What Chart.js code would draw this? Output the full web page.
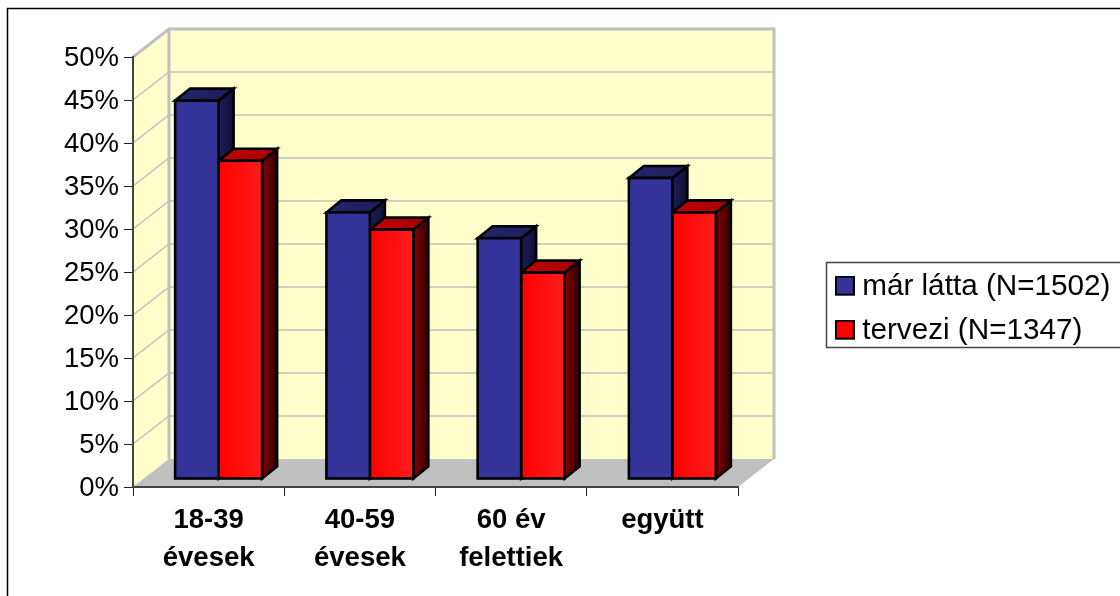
<!DOCTYPE html>
<html>
<head>
<meta charset="utf-8">
<style>
  html, body { margin: 0; padding: 0; background: #fff; overflow: hidden; }
  canvas { display: block; }
</style>
<script src="https://cdn.jsdelivr.net/npm/chart.js@4"></script>
</head>
<body>
<canvas id="bar-chart" width="1120" height="596"></canvas>
<script>
// Values
const categories = [['18-39', 'évesek'], ['40-59', 'évesek'], ['60 év', 'felettiek'], ['együtt']];
const seenValues = [44, 31, 28, 35];
const plannedValues = [37, 29, 24, 31];
const seenLabel = 'már látta (N=1502)';
const plannedLabel = 'tervezi (N=1347)';

const FONT = '"Liberation Sans", Arial, sans-serif';
const WALL = { dx: 36, dy: -28 };   // back wall offset from the axes
const BAR_SHIFT = { dx: 10, dy: -8 }; // bars stand a bit inside the floor
const BAR_DEPTH = { dx: 15, dy: -12 };
const EDGE = 2.6;

const faces = [
  { top: ['#24246e', '#1c1c5c'], side: ['#1e1e60', '#0d0d30'] },
  { top: ['#c40000', '#a00000'], side: ['#8a0000', '#2e0000'] }
];

function swatch(color) {
  // taller than the box so it sits a little above the text's middle
  const c = document.createElement('canvas');
  c.width = 20;
  c.height = 23;
  const g = c.getContext('2d');
  g.fillStyle = '#000';
  g.fillRect(0, 0, 20, 20);
  g.fillStyle = color;
  g.fillRect(2, 2, 16, 16);
  return c;
}

function fillPoly(ctx, pts, fill, stroke, width) {
  ctx.beginPath();
  pts.forEach((p, i) => i ? ctx.lineTo(p[0], p[1]) : ctx.moveTo(p[0], p[1]));
  ctx.closePath();
  if (fill) { ctx.fillStyle = fill; ctx.fill(); }
  if (stroke) { ctx.strokeStyle = stroke; ctx.lineWidth = width; ctx.stroke(); }
}

function hGradient(ctx, x0, x1, colors) {
  const g = ctx.createLinearGradient(x0, 0, x1, 0);
  g.addColorStop(0, colors[0]);
  g.addColorStop(1, colors[1]);
  return g;
}

// walls, floor and the frame behind everything
const backdrop = {
  id: 'backdrop',
  beforeDraw(chart) {
    const { ctx, chartArea: a, scales } = chart;
    const grey = '#c0c0c0';
    ctx.save();
    fillPoly(ctx, [[a.left, a.top], [a.left + WALL.dx, a.top + WALL.dy], [a.left + WALL.dx, a.bottom + WALL.dy], [a.left, a.bottom]], '#ffffcc');
    ctx.fillStyle = '#ffffcc';
    ctx.fillRect(a.left + WALL.dx, a.top + WALL.dy, a.right - a.left, a.bottom - a.top);
    fillPoly(ctx, [[a.left, a.bottom], [a.left + WALL.dx, a.bottom + WALL.dy], [a.right + WALL.dx, a.bottom + WALL.dy], [a.right, a.bottom]], grey);

    ctx.strokeStyle = grey;
    ctx.lineWidth = 1.5;
    scales.y.ticks.forEach(t => {
      if (t.value === 0 || t.value === 50) return;
      const y = scales.y.getPixelForValue(t.value);
      ctx.beginPath();
      ctx.moveTo(a.left, y);
      ctx.lineTo(a.left + WALL.dx, y + WALL.dy);
      ctx.lineTo(a.right + WALL.dx, y + WALL.dy);
      ctx.stroke();
    });

    // heavier edge round the back wall
    ctx.lineWidth = 3;
    ctx.beginPath();
    ctx.moveTo(a.left, a.top);
    ctx.lineTo(a.left + WALL.dx, a.top + WALL.dy);
    ctx.lineTo(a.right + WALL.dx, a.top + WALL.dy);
    ctx.lineTo(a.right + WALL.dx, a.bottom + WALL.dy);
    ctx.moveTo(a.left + WALL.dx, a.top + WALL.dy);
    ctx.lineTo(a.left + WALL.dx, a.bottom + WALL.dy);
    ctx.stroke();

    // outer frame, only left and top are in the picture
    ctx.strokeStyle = '#000';
    ctx.lineWidth = 1.5;
    ctx.beginPath();
    ctx.moveTo(7.5, chart.height);
    ctx.lineTo(7.5, 8.5);
    ctx.lineTo(chart.width, 8.5);
    ctx.stroke();
    ctx.restore();
  }
};

// side and top faces of the bars, read from the bar elements.
// All faces go first (blue, then red) because the library paints the
// last dataset first; the front faces then land on top of them.
const depthFaces = {
  id: 'depthFaces',
  beforeDatasetsDraw(chart) {
    const { ctx } = chart;
    ctx.save();
    ctx.translate(BAR_SHIFT.dx, BAR_SHIFT.dy);
    ctx.lineJoin = 'miter';
    chart.data.datasets.forEach((d, i) => {
      chart.getDatasetMeta(i).data.forEach(bar => {
        const { x, y, base, width } = bar.getProps(['x', 'y', 'base', 'width'], true);
        const l = x - width / 2, r = x + width / 2;
        const ex = BAR_DEPTH.dx, ey = BAR_DEPTH.dy;
        fillPoly(ctx, [[r, y], [r + ex, y + ey], [r + ex, base + ey], [r, base]], hGradient(ctx, r, r + ex, faces[i].side), '#000', EDGE);
        fillPoly(ctx, [[l, y], [l + ex, y + ey], [r + ex, y + ey], [r, y]], hGradient(ctx, l, r + ex, faces[i].top), '#000', EDGE);
      });
    });
    ctx.restore();
  },
  beforeDatasetDraw(chart) {
    chart.ctx.save();
    chart.ctx.translate(BAR_SHIFT.dx, BAR_SHIFT.dy);
  },
  afterDatasetDraw(chart, args) {
    // the outline straddles the bar's edge like the faces do
    const { ctx } = chart;
    ctx.strokeStyle = '#000';
    ctx.lineWidth = EDGE;
    args.meta.data.forEach(bar => {
      const { x, y, base, width } = bar.getProps(['x', 'y', 'base', 'width'], true);
      ctx.strokeRect(x - width / 2, y, width, base - y);
    });
    ctx.restore();
  }
};

// legend sits on its own, right of the plot, with a box round it
const legendBox = {
  id: 'legendBox',
  afterLayout(chart) {
    const lg = chart.legend;
    lg.left = 828; lg.right = 1200; lg.top = 258; lg.bottom = 596;
  },
  afterDraw(chart) {
    const { ctx } = chart;
    ctx.save();
    ctx.strokeStyle = '#444';
    ctx.lineWidth = 1.5;
    ctx.beginPath();
    ctx.moveTo(chart.width, 262.5);
    ctx.lineTo(826.5, 262.5);
    ctx.lineTo(826.5, 347.5);
    ctx.lineTo(chart.width, 347.5);
    ctx.stroke();
    ctx.restore();
  }
};

const ctx = document.getElementById('bar-chart').getContext('2d');
new Chart(ctx, {
  type: 'bar',
  data: {
    labels: categories,
    datasets: [
      { label: seenLabel, data: seenValues, backgroundColor: '#333399' },
      {
        label: plannedLabel,
        data: plannedValues,
        backgroundColor: c => {
          const mid = c.chart.scales.x.getPixelForValue(c.dataIndex);
          return hGradient(c.chart.ctx, mid, mid + 43, ['#ff0000', '#ff1c1c']);
        }
      }
    ]
  },
  options: {
    responsive: false,
    animation: false,
    clip: false,
    layout: { padding: { top: 57, right: 382, left: 0, bottom: 0 } },
    datasets: {
      bar: {
        barPercentage: 1,
        categoryPercentage: 0.575,
        borderWidth: 0
      }
    },
    scales: {
      x: {
        afterFit(axis) { axis.height = 109; },
        border: { color: '#444', width: 2 },
        grid: { drawOnChartArea: false, tickColor: '#222', tickLength: 9, offset: true },
        ticks: {
          color: '#000',
          autoSkip: false,
          maxRotation: 0,
          padding: 5,
          font: { family: FONT, size: 27.5, weight: 'bold', lineHeight: 1.38 }
        }
      },
      y: {
        min: 0,
        max: 50,
        afterFit(axis) { axis.width = 133; },
        border: { color: '#444', width: 2 },
        grid: { drawOnChartArea: false, tickColor: '#222', tickLength: 9 },
        ticks: {
          stepSize: 5,
          color: '#000',
          padding: 5,
          labelOffset: 1.5,
          callback: v => v + '%',
          font: { family: FONT, size: 27.5 }
        }
      }
    },
    plugins: {
      tooltip: { enabled: false },
      legend: {
        position: 'chartArea',
        align: 'start',
        labels: {
          color: '#000',
          font: { family: FONT, size: 29.7 },
          usePointStyle: true,
          pointStyleWidth: 5,
          padding: 14.3,
          generateLabels: chart => chart.data.datasets.map((d, i) => ({
            text: d.label,
            datasetIndex: i,
            pointStyle: swatch(i === 0 ? '#333399' : '#ff0000'),
            fontColor: '#000',
            lineWidth: 0
          }))
        }
      }
    }
  },
  plugins: [backdrop, depthFaces, legendBox]
});
</script>
</body>
</html>
